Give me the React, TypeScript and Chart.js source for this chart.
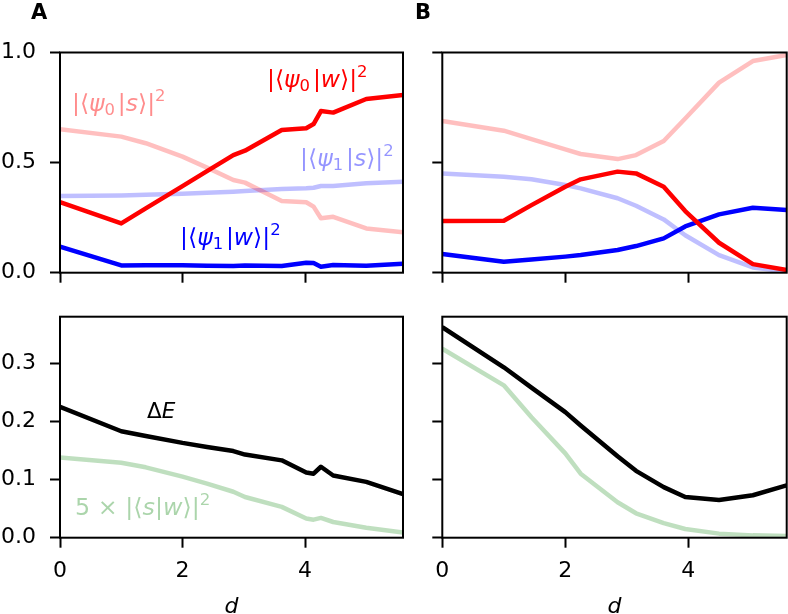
import { useEffect, useRef } from 'react';
import Chart from 'chart.js/auto';

// distance d for panel A and panel B
const dA = [0, 1, 1.4, 2, 2.4, 2.83, 3.02, 3.62, 4.02, 4.14, 4.26, 4.46, 5.0, 5.6];
const dB = [0, 1, 1.45, 2, 2.25, 2.85, 3.15, 3.6, 3.95, 4.5, 5.05, 5.6];

// panel A, overlaps
const psi0wA = [0.32, 0.224, 0.292, 0.393, 0.461, 0.534, 0.554, 0.648, 0.656, 0.675, 0.734, 0.727, 0.789, 0.807];
const psi0sA = [0.651, 0.618, 0.588, 0.527, 0.477, 0.421, 0.409, 0.326, 0.32, 0.3, 0.247, 0.254, 0.201, 0.184];
const psi1sA = [0.348, 0.351, 0.354, 0.359, 0.363, 0.368, 0.371, 0.38, 0.383, 0.386, 0.394, 0.394, 0.406, 0.413];
const psi1wA = [0.118, 0.033, 0.034, 0.034, 0.032, 0.03, 0.033, 0.03, 0.045, 0.044, 0.027, 0.035, 0.032, 0.041];
// panel A, gap and 5x overlap
const gapA = [0.225, 0.183, 0.175, 0.163, 0.156, 0.149, 0.143, 0.133, 0.112, 0.11, 0.122, 0.107, 0.096, 0.075];
const swA = [0.138, 0.129, 0.121, 0.105, 0.093, 0.079, 0.07, 0.053, 0.033, 0.031, 0.034, 0.027, 0.017, 0.009];

// panel B, overlaps
const psi0wB = [0.235, 0.236, 0.307, 0.39, 0.424, 0.459, 0.451, 0.39, 0.28, 0.136, 0.039, 0.012];
const psi0sB = [0.689, 0.645, 0.607, 0.56, 0.539, 0.516, 0.534, 0.598, 0.7, 0.863, 0.961, 0.989];
const psi1sB = [0.451, 0.436, 0.424, 0.398, 0.383, 0.338, 0.304, 0.242, 0.17, 0.08, 0.024, 0.005];
const psi1wB = [0.085, 0.05, 0.06, 0.073, 0.08, 0.103, 0.121, 0.156, 0.21, 0.265, 0.295, 0.285];
// panel B, gap and 5x overlap
const gapB = [0.362, 0.293, 0.258, 0.216, 0.193, 0.14, 0.115, 0.087, 0.07, 0.065, 0.073, 0.09];
const swB = [0.325, 0.262, 0.207, 0.145, 0.11, 0.061, 0.042, 0.025, 0.015, 0.007, 0.004, 0.003];

const xTicks = [0, 2, 4];
const yTicksTop = [0, 0.5, 1.0];
const yTicksBottom = [0, 0.1, 0.2, 0.3];

const RED = '#ff0000';
const BLUE = '#0000ff';
const PINK = 'rgba(255,0,0,0.25)';
const LBLUE = 'rgba(0,0,255,0.25)';
const GREEN = 'rgba(0,128,0,0.25)';

const FONT = '"DejaVu Sans"';

type Run = [string, string];
type Note = { x: number; y: number; runs: Run[]; color: string; size: number };

const pts = (xs: number[], ys: number[]) => xs.map((x, i) => ({ x, y: ys[i] }));

function drawRuns(ctx: CanvasRenderingContext2D, x: number, y: number, runs: Run[], size: number) {
  let cx = x;
  for (const [t, k] of runs) {
    if (k === 'gap') {
      cx += size * Number(t);
      continue;
    }
    const small = k === 'sub' || k === 'sup';
    const s = small ? size * 0.7 : size;
    ctx.font = `${k === 'i' ? 'italic ' : ''}${s}px ${FONT}`;
    const dy = k === 'sub' ? size * 0.16 : k === 'sup' ? -size * 0.42 : 0;
    ctx.fillText(t, cx, y + dy);
    cx += ctx.measureText(t).width;
  }
}

const bra = (sub: string, ket: string): Run[] => [
  ['|⟨', 'n'], ['ψ', 'i'], [sub, 'sub'], ['0.12', 'gap'], ['|', 'n'], [ket, 'i'], ['⟩|', 'n'], ['2', 'sup'],
];

type PanelProps = {
  left: number; top: number; width: number; height: number;
  yw: number; padTop: number; padRight: number; xh: number;
  series: { data: { x: number; y: number }[]; color: string }[];
  yMax: number; yTicks: number[];
  xLabels: boolean; yLabels: boolean;
  notes: Note[];
  letter?: { text: string; x: number; y: number };
  title?: number;
};

const Panel = (p: PanelProps) => {
  const ref = useRef<HTMLCanvasElement>(null);

  useEffect(() => {
    if (!ref.current) return;
    const deco = {
      id: 'deco',
      afterDatasetsDraw(chart: any) {
        const { ctx, chartArea: a, scales } = chart;
        ctx.save();
        ctx.strokeStyle = '#000';
        ctx.lineWidth = 2;
        ctx.strokeRect(a.left, a.top, a.right - a.left, a.bottom - a.top);
        ctx.textAlign = 'left';
        ctx.textBaseline = 'alphabetic';
        for (const n of p.notes) {
          ctx.fillStyle = n.color;
          drawRuns(ctx, scales.x.getPixelForValue(n.x), scales.y.getPixelForValue(n.y), n.runs, n.size);
        }
        ctx.fillStyle = '#000';
        if (p.letter) {
          ctx.font = `bold 21px ${FONT}`;
          ctx.fillText(p.letter.text, p.letter.x, p.letter.y);
        }
        if (p.title !== undefined) {
          ctx.font = `italic 22px ${FONT}`;
          ctx.textAlign = 'center';
          ctx.fillText('d', (a.left + a.right) / 2, p.title);
        }
        ctx.restore();
      },
    };
    const grid = { drawOnChartArea: false, drawTicks: true, tickLength: 10, tickWidth: 2, tickColor: '#000' };
    const chart = new Chart(ref.current, {
      type: 'line',
      data: {
        datasets: p.series.map((s) => ({
          data: s.data,
          borderColor: s.color,
          borderWidth: 4.5,
          borderJoinStyle: 'round',
          pointRadius: 0,
          tension: 0,
          fill: false,
          clip: 0,
        })),
      },
      options: {
        animation: false,
        responsive: false,
        events: [],
        layout: { padding: { left: 0, top: p.padTop, right: p.padRight, bottom: 0 } },
        plugins: { legend: { display: false }, tooltip: { enabled: false } },
        scales: {
          x: {
            type: 'linear',
            min: 0,
            max: 5.6,
            afterFit: (s: any) => { s.height = p.xh; s.paddingLeft = 0; s.paddingRight = 0; },
            afterBuildTicks: (s: any) => { s.ticks = xTicks.map((value) => ({ value })); },
            grid,
            border: { display: false },
            ticks: {
              display: p.xLabels,
              padding: 10,
              color: '#000',
              font: { family: 'DejaVu Sans', size: 22 },
              callback: (v: any) => String(v),
            },
          },
          y: {
            type: 'linear',
            min: 0,
            max: p.yMax,
            afterFit: (s: any) => { s.width = p.yw; s.paddingTop = 0; s.paddingBottom = 0; },
            afterBuildTicks: (s: any) => { s.ticks = p.yTicks.map((value) => ({ value })); },
            grid,
            border: { display: false },
            ticks: {
              display: p.yLabels,
              padding: 14,
              color: '#000',
              font: { family: 'DejaVu Sans', size: 22 },
              callback: (v: any) => Number(v).toFixed(1),
            },
          },
        },
      },
      plugins: [deco],
    } as any);
    return () => chart.destroy();
  }, []);

  return (
    <canvas
      ref={ref}
      width={p.width}
      height={p.height}
      style={{ position: 'absolute', left: p.left, top: p.top, width: p.width, height: p.height }}
    />
  );
};

const App = () => {
  const topA = [
    { data: pts(dA, psi0wA), color: RED },
    { data: pts(dA, psi1wA), color: BLUE },
    { data: pts(dA, psi0sA), color: PINK },
    { data: pts(dA, psi1sA), color: LBLUE },
  ];
  const topB = [
    { data: pts(dB, psi0wB), color: RED },
    { data: pts(dB, psi1wB), color: BLUE },
    { data: pts(dB, psi0sB), color: PINK },
    { data: pts(dB, psi1sB), color: LBLUE },
  ];
  const botA = [
    { data: pts(dA, gapA), color: '#000' },
    { data: pts(dA, swA), color: GREEN },
  ];
  const botB = [
    { data: pts(dB, gapB), color: '#000' },
    { data: pts(dB, swB), color: GREEN },
  ];
  const notesTop: Note[] = [
    { x: 3.38, y: 0.843, runs: bra('0', 'w'), color: RED, size: 23.5 },
    { x: 0.196, y: 0.734, runs: bra('0', 's'), color: 'rgba(255,0,0,0.45)', size: 23.5 },
    { x: 3.92, y: 0.485, runs: bra('1', 's'), color: 'rgba(0,0,255,0.42)', size: 23.5 },
    { x: 1.96, y: 0.126, runs: bra('1', 'w'), color: BLUE, size: 23.5 },
  ];
  const notesBottom: Note[] = [
    { x: 1.42, y: 0.206, runs: [['Δ', 'n'], ['E', 'i']], color: '#000', size: 21.5 },
    {
      x: 0.245, y: 0.039,
      runs: [['5 × |⟨', 'n'], ['s', 'i'], ['|', 'n'], ['w', 'i'], ['⟩|', 'n'], ['2', 'sup']],
      color: 'rgba(0,128,0,0.33)', size: 23.8,
    },
  ];

  return (
    <div style={{ position: 'absolute', left: 0, top: 0, width: 788, height: 614, background: '#fff', overflow: 'hidden' }}>
      <Panel left={0} top={0} width={410} height={300} yw={60} padTop={52.5} padRight={7} xh={27.3}
        series={topA} yMax={1} yTicks={yTicksTop} xLabels={false} yLabels={true}
        notes={notesTop} letter={{ text: 'A', x: 31, y: 19 }} />
      <Panel left={410} top={0} width={378} height={300} yw={32.3} padTop={52.5} padRight={1.3} xh={27.3}
        series={topB} yMax={1} yTicks={yTicksTop} xLabels={false} yLabels={false}
        notes={[]} letter={{ text: 'B', x: 5, y: 19 }} />
      <Panel left={0} top={300} width={410} height={314} yw={60} padTop={16.7} padRight={7} xh={76.3}
        series={botA} yMax={0.38} yTicks={yTicksBottom} xLabels={true} yLabels={true}
        notes={notesBottom} title={313} />
      <Panel left={410} top={300} width={378} height={314} yw={32.3} padTop={16.7} padRight={1.3} xh={76.3}
        series={botB} yMax={0.38} yTicks={yTicksBottom} xLabels={true} yLabels={false}
        notes={[]} title={313} />
    </div>
  );
};

export default App;
